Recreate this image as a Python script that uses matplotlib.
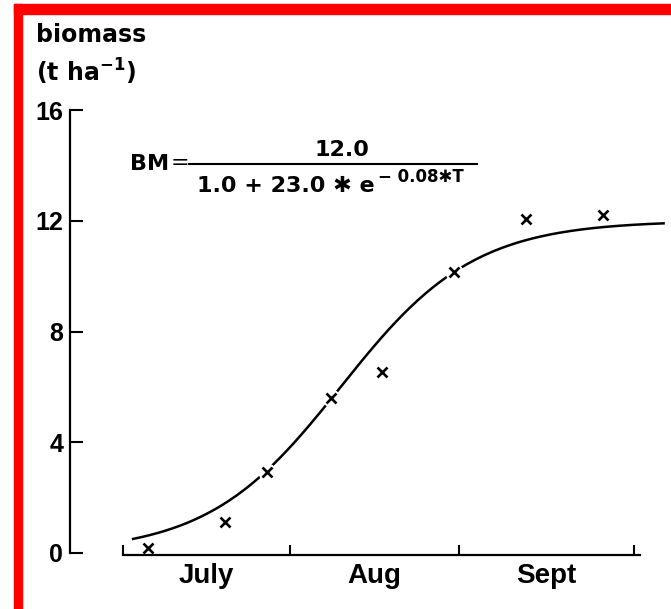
"""
Biomass growth over the season with fitted logistic curve
"""

import numpy as np
import matplotlib.pyplot as plt
from matplotlib.lines import Line2D
from matplotlib.patches import Rectangle


# -------------------------------------------------
# Data
# -------------------------------------------------

# days since the start of the fit (T) and measured biomass (t/ha)
obs_days = [3.0, 17.4, 25.3, 37.3, 46.9, 60.4, 73.9, 88.4]
obs_biomass = [0.18, 1.12, 2.92, 5.60, 6.53, 10.14, 12.06, 12.20]

# parameters of the fitted curve printed on the chart
bm_max = 12.0
bm_a = 23.0
bm_rate = 0.08
curve_end = 100

# month boundaries (in T days) and labels
month_edges = [-1.7, 29.6, 61.4, 94.2]
month_names = ["July", "Aug", "Sept"]

y_ticks = [0, 4, 8, 12, 16]


# -------------------------------------------------
# Fitted curve
# -------------------------------------------------

curve_days = np.linspace(0, curve_end, 300)
curve_biomass = bm_max / (1.0 + bm_a * np.exp(-bm_rate * curve_days))


# -------------------------------------------------
# Figure
# -------------------------------------------------

W, H = 671, 609

plt.rcParams["font.family"] = ["Liberation Sans", "DejaVu Sans"]
plt.rcParams["font.weight"] = "bold"
plt.rcParams["mathtext.fontset"] = "custom"
plt.rcParams["mathtext.rm"] = "DejaVu Sans:bold"
plt.rcParams["mathtext.default"] = "rm"


def fx(px):
    return px / W


def fy(py):
    return 1 - py / H


fig = plt.figure(figsize=(W / 100, H / 100), dpi=100)

ax = fig.add_axes([fx(70), fy(553), 600 / W, 443 / H])
ax.set_xlim(-11.6, -11.6 + 600 / 5.33)
ax.set_ylim(0, 16)

# curve, with white discs under the markers to break the line
ax.plot(curve_days, curve_biomass, color="black", lw=1.8,
        clip_on=False, zorder=2, solid_capstyle="butt")
ax.plot(obs_days, obs_biomass, ls="none", marker="o", ms=13,
        mfc="white", mec="none", zorder=2.5, clip_on=False)
ax.plot(obs_days, obs_biomass, ls="none", marker="x", ms=6.5,
        mew=1.9, color="black", zorder=3, clip_on=False)

# spines
for side in ["top", "right"]:
    ax.spines[side].set_visible(False)

ax.spines["left"].set_linewidth(1.6)
ax.spines["left"].set_bounds(0, 16)
ax.spines["bottom"].set_linewidth(1.6)
ax.spines["bottom"].set_bounds(month_edges[0], 95.3)
ax.spines["bottom"].set_position(("outward", 1.5))

# y ticks
ax.set_yticks(y_ticks)
ax.set_yticklabels([str(v) for v in y_ticks])
ax.tick_params(axis="y", direction="in", length=9, width=1.5,
               pad=5, labelsize=18)

# x ticks: month edges, labels centered between them
ax.set_xticks(month_edges)
ax.set_xticklabels([])
ax.tick_params(axis="x", which="major", direction="in", length=7.5,
               width=1.5)

mids = [(a + b) / 2 for a, b in zip(month_edges[:-1], month_edges[1:])]
ax.set_xticks(mids, minor=True)
ax.set_xticklabels(month_names, minor=True)
ax.tick_params(axis="x", which="minor", length=0, pad=6, labelsize=20)

# y axis title
fig.text(fx(36), fy(35), "biomass", ha="left", va="center",
         fontsize=17, family="DejaVu Sans", weight="bold")
fig.text(fx(36), fy(72), r"(t ha$^{-1}$)", ha="left", va="center",
         fontsize=17, family="DejaVu Sans", weight="bold")

# equation
eq_font = dict(family="DejaVu Sans", weight="bold", color="black")
fig.text(fx(130), fy(164), "BM", ha="left", va="center",
         fontsize=16, **eq_font)
fig.text(fx(171), fy(163), "=", ha="left", va="center",
         fontsize=16, family="DejaVu Sans", weight="normal")
fig.add_artist(Line2D([fx(189), fx(477)], [fy(164), fy(164)],
                      transform=fig.transFigure, color="black", lw=1.5))
fig.text(fx(342), fy(150), f"{bm_max:.1f}", ha="center", va="center",
         fontsize=16, **eq_font)
fig.text(fx(197), fy(186), f"{1.0:.1f} + {bm_a:.1f} \u2731 e",
         ha="left", va="center", fontsize=16, **eq_font)
fig.text(fx(378), fy(177), f"\u2212 {bm_rate:.2f}\u2731T",
         ha="left", va="center", fontsize=12, **eq_font)

# red frame
fig.patches.append(Rectangle((fx(14), 0), 8 / W, fy(4),
                             transform=fig.transFigure, color="#ff0000"))
fig.patches.append(Rectangle((fx(14), fy(14)), (W - 14) / W, 10 / H,
                             transform=fig.transFigure, color="#ff0000"))

fig.savefig("out.png", dpi=100)
